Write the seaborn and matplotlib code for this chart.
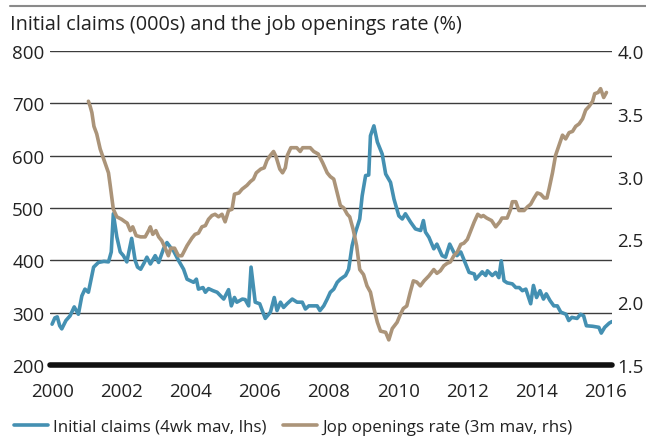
import matplotlib
matplotlib.use("Agg")
import matplotlib.pyplot as plt
import seaborn as sns
import pandas as pd
from matplotlib.lines import Line2D

# ---------------- data ----------------
claims_year = [
    2000.00, 2000.08, 2000.15, 2000.22, 2000.28, 2000.40, 2000.52, 2000.64, 2000.76, 2000.86,
    2000.95, 2001.05, 2001.20, 2001.34, 2001.50, 2001.63, 2001.71, 2001.77, 2001.87, 2001.97,
    2002.06, 2002.16, 2002.30, 2002.40, 2002.47, 2002.56, 2002.66, 2002.74, 2002.84, 2002.98,
    2003.08, 2003.22, 2003.32, 2003.42, 2003.51, 2003.66, 2003.80, 2003.90, 2004.09, 2004.17,
    2004.23, 2004.36, 2004.43, 2004.52, 2004.65, 2004.77, 2004.96, 2005.10, 2005.18, 2005.27,
    2005.34, 2005.50, 2005.58, 2005.68, 2005.75, 2005.87, 2006.00, 2006.16, 2006.31, 2006.42,
    2006.50, 2006.60, 2006.69, 2006.79, 2006.94, 2007.08, 2007.23, 2007.32, 2007.42, 2007.66,
    2007.74, 2007.85, 2007.95, 2008.04, 2008.14, 2008.24, 2008.33, 2008.48, 2008.57, 2008.67,
    2008.77, 2008.89, 2008.96, 2009.06, 2009.15, 2009.20, 2009.30, 2009.40, 2009.54, 2009.64,
    2009.78, 2009.88, 2010.02, 2010.12, 2010.21, 2010.36, 2010.50, 2010.65, 2010.73, 2010.79,
    2010.89, 2011.03, 2011.12, 2011.27, 2011.37, 2011.49, 2011.61, 2011.70, 2011.81, 2011.95,
    2012.05, 2012.20, 2012.24, 2012.38, 2012.43, 2012.53, 2012.58, 2012.72, 2012.82, 2012.91,
    2012.98, 2013.06, 2013.15, 2013.30, 2013.40, 2013.50, 2013.59, 2013.69, 2013.83, 2013.91,
    2014.00, 2014.10, 2014.20, 2014.28, 2014.39, 2014.50, 2014.60, 2014.70, 2014.85, 2014.93,
    2015.02, 2015.17, 2015.27, 2015.36, 2015.44, 2015.62, 2015.80, 2015.87, 2015.97, 2016.10,
    2016.18,
]
claims_value = [
    278, 290, 292, 275, 269, 285, 294, 311, 297, 332,
    345, 339, 387, 396, 398, 397, 416, 489, 445, 416,
    409, 397, 442, 400, 387, 383, 395, 406, 393, 409,
    396, 422, 434, 425, 418, 399, 383, 364, 358, 364,
    345, 348, 339, 346, 342, 339, 326, 344, 313, 329,
    320, 326, 325, 313, 387, 320, 317, 289, 301, 329,
    304, 320, 310, 317, 326, 320, 320, 307, 313, 313,
    304, 313, 326, 339, 345, 358, 364, 371, 383, 428,
    454, 479, 523, 562, 563, 638, 657, 626, 603, 565,
    549, 517, 485, 479, 489, 473, 460, 457, 476, 454,
    444, 422, 431, 409, 406, 431, 415, 409, 416, 393,
    377, 374, 364, 374, 378, 371, 380, 371, 377, 367,
    399, 361, 357, 355, 348, 348, 342, 345, 317, 352,
    329, 342, 326, 336, 323, 313, 313, 301, 297, 285,
    291, 289, 297, 294, 275, 274, 272, 261, 272, 280,
    283,
]

openings_year = [
    2001.05, 2001.10, 2001.15, 2001.21, 2001.29, 2001.39, 2001.53, 2001.63, 2001.68, 2001.77,
    2001.87, 2002.01, 2002.11, 2002.17, 2002.26, 2002.33, 2002.43, 2002.56, 2002.69, 2002.79,
    2002.84, 2002.91, 2003.00, 2003.08, 2003.17, 2003.27, 2003.36, 2003.43, 2003.54, 2003.65,
    2003.75, 2003.90, 2004.04, 2004.13, 2004.23, 2004.33, 2004.43, 2004.52, 2004.62, 2004.71,
    2004.81, 2004.91, 2005.00, 2005.10, 2005.20, 2005.27, 2005.40, 2005.49, 2005.63, 2005.73,
    2005.82, 2005.90, 2006.03, 2006.13, 2006.21, 2006.31, 2006.40, 2006.47, 2006.58, 2006.66,
    2006.74, 2006.80, 2006.90, 2007.07, 2007.17, 2007.24, 2007.46, 2007.56, 2007.69, 2007.82,
    2007.95, 2008.04, 2008.14, 2008.24, 2008.33, 2008.43, 2008.53, 2008.60, 2008.70, 2008.80,
    2008.89, 2009.00, 2009.10, 2009.20, 2009.30, 2009.40, 2009.49, 2009.64, 2009.73, 2009.83,
    2009.97, 2010.06, 2010.15, 2010.25, 2010.35, 2010.44, 2010.54, 2010.64, 2010.75, 2010.89,
    2011.03, 2011.12, 2011.22, 2011.32, 2011.42, 2011.51, 2011.61, 2011.71, 2011.81, 2011.90,
    2012.00, 2012.10, 2012.20, 2012.30, 2012.40, 2012.46, 2012.56, 2012.70, 2012.82, 2012.94,
    2013.00, 2013.15, 2013.25, 2013.30, 2013.40, 2013.49, 2013.64, 2013.74, 2013.83, 2013.93,
    2014.02, 2014.12, 2014.22, 2014.30, 2014.36, 2014.46, 2014.55, 2014.65, 2014.75, 2014.84,
    2014.94, 2015.04, 2015.13, 2015.23, 2015.33, 2015.42, 2015.52, 2015.62, 2015.68, 2015.78,
    2015.85, 2015.94, 2016.02,
]
openings_value = [
    3.60, 3.56, 3.51, 3.40, 3.34, 3.22, 3.11, 3.03, 2.93, 2.74,
    2.68, 2.66, 2.64, 2.63, 2.57, 2.60, 2.53, 2.52, 2.52, 2.57,
    2.60, 2.54, 2.57, 2.52, 2.49, 2.43, 2.37, 2.43, 2.43, 2.37,
    2.37, 2.45, 2.51, 2.54, 2.55, 2.60, 2.61, 2.66, 2.69, 2.70,
    2.68, 2.70, 2.64, 2.73, 2.74, 2.86, 2.87, 2.90, 2.93, 2.96,
    2.98, 3.03, 3.06, 3.07, 3.13, 3.17, 3.20, 3.16, 3.06, 3.03,
    3.07, 3.17, 3.23, 3.23, 3.20, 3.23, 3.23, 3.20, 3.18, 3.11,
    3.03, 3.00, 2.98, 2.87, 2.77, 2.75, 2.70, 2.68, 2.58, 2.45,
    2.26, 2.22, 2.13, 2.08, 1.95, 1.84, 1.77, 1.76, 1.70, 1.79,
    1.84, 1.90, 1.95, 1.97, 2.08, 2.17, 2.16, 2.13, 2.17, 2.21,
    2.26, 2.23, 2.25, 2.29, 2.31, 2.32, 2.37, 2.40, 2.46, 2.47,
    2.50, 2.57, 2.64, 2.70, 2.68, 2.69, 2.67, 2.65, 2.60, 2.64,
    2.67, 2.67, 2.74, 2.80, 2.80, 2.73, 2.73, 2.76, 2.78, 2.83,
    2.87, 2.86, 2.83, 2.83, 2.90, 3.03, 3.17, 3.25, 3.33, 3.30,
    3.35, 3.36, 3.40, 3.42, 3.46, 3.53, 3.56, 3.60, 3.66, 3.67,
    3.70, 3.63, 3.67,
]

title = "Initial claims (000s) and the job openings rate (%)"
claims_label = "Initial claims (4wk mav, lhs)"
openings_label = "Jop openings rate (3m mav, rhs)"
x_ticks = [2000, 2002, 2004, 2006, 2008, 2010, 2012, 2014, 2016]
left_ticks = [200, 300, 400, 500, 600, 700, 800]
right_ticks = [1.5, 2.0, 2.5, 3.0, 3.5, 4.0]

# ---------------- styling ----------------
sns.set_theme(style="white")
plt.rcParams["font.family"] = ["Open Sans", "DejaVu Sans"]
FS = 13.5
TXT = "#222222"
BLUE = "#4490b2"
BROWN = "#ab9479"
LW = 2.6

W, H = 646, 439
fig = plt.figure(figsize=(W / 100, H / 100), dpi=100)
ax = fig.add_axes([50 / W, 1 - 366 / H, 562 / W, 314 / H])
ax2 = ax.twinx()

df_c = pd.DataFrame({"year": claims_year, "value": claims_value})
df_o = pd.DataFrame({"year": openings_year, "value": openings_value})

# gridlines
for v in left_ticks[1:]:
    ax.axhline(v, color="#3c3c3c", lw=1.0, zorder=1)
ax.axhline(200, color="#111111", lw=4.0, zorder=5, clip_on=False)

sns.lineplot(data=df_c, x="year", y="value", ax=ax, color=BLUE, lw=LW, zorder=3)
sns.lineplot(data=df_o, x="year", y="value", ax=ax2, color=BROWN, lw=LW, zorder=3)

ax.set_xlim(1999.94, 2016.18)
ax.set_ylim(200, 800)
ax2.set_ylim(1.5, 4.0)
ax.set_xticks(x_ticks)
ax.set_xticklabels([str(t) for t in x_ticks])
ax.set_yticks(left_ticks)
ax.set_yticklabels([str(t) for t in left_ticks])
ax2.set_yticks(right_ticks)
ax2.set_yticklabels([f"{t:.1f}" for t in right_ticks])

for a in (ax, ax2):
    a.set_xlabel("")
    a.set_ylabel("")
    for s in a.spines.values():
        s.set_visible(False)
    a.tick_params(length=0, labelsize=FS, colors=TXT)
ax.tick_params(axis="y", pad=4)
ax.tick_params(axis="x", pad=12)
ax2.tick_params(axis="y", pad=4)
ax.patch.set_alpha(0)

# title and top rule
fig.text(10 / W, 1 - 25 / H, title, fontsize=14.3, color=TXT, va="center", ha="left")
fig.add_artist(Line2D([10 / W, 1.0], [1 - 7 / H, 1 - 7 / H], color="#8a8a8a", lw=1.5,
                      transform=fig.transFigure))

# legend
handles = [Line2D([], [], color=BLUE, lw=LW), Line2D([], [], color=BROWN, lw=LW)]
fig.legend(handles, [claims_label, openings_label], loc="center left",
           bbox_to_anchor=(14 / W, 1 - 428 / H), ncol=2, frameon=False,
           fontsize=12.2, handlelength=2.0, handletextpad=0.3, columnspacing=1.0,
           borderpad=0, borderaxespad=0, labelcolor=TXT)

fig.savefig("out.png", dpi=100)
